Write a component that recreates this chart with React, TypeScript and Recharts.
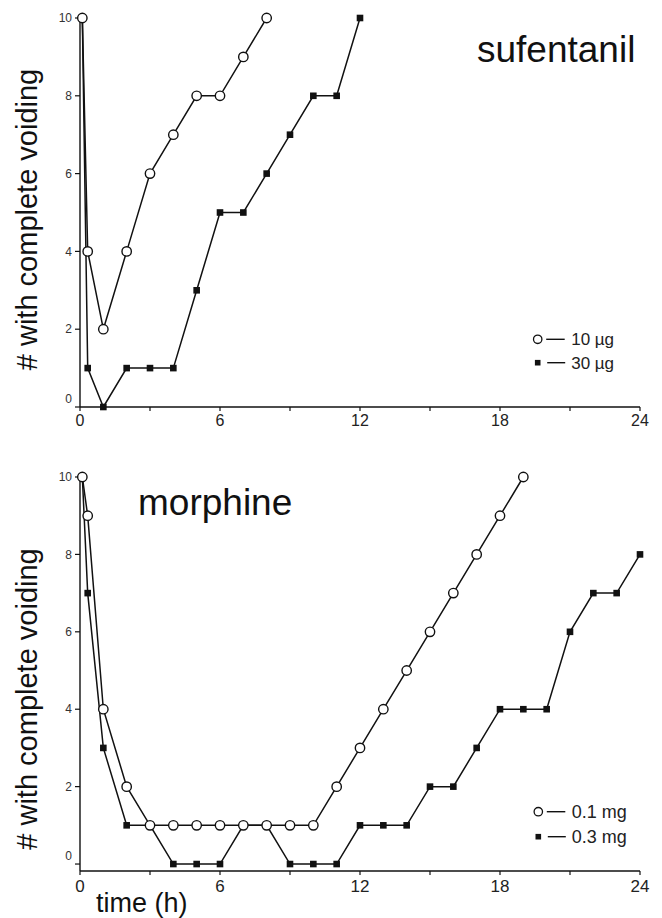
import { LineChart, Line, XAxis, YAxis } from 'recharts';

// time points (h)
const sufTimes = [0.1, 0.33, 1, 2, 3, 4, 5, 6, 7, 8, 9, 10, 11, 12];
const suf10ug = [10, 4, 2, 4, 6, 7, 8, 8, 9, 10];
const suf30ug = [10, 1, 0, 1, 1, 1, 3, 5, 5, 6, 7, 8, 8, 10];

const morTimes = [
  0.1, 0.33, 1, 2, 3, 4, 5, 6, 7, 8, 9, 10, 11, 12, 13, 14, 15, 16, 17, 18, 19,
  20, 21, 22, 23, 24,
];
const mor01mg = [10, 9, 4, 2, 1, 1, 1, 1, 1, 1, 1, 1, 2, 3, 4, 5, 6, 7, 8, 9, 10];
const mor03mg = [
  10, 7, 3, 1, 1, 0, 0, 0, 1, 1, 0, 0, 0, 1, 1, 1, 2, 2, 3, 4, 4, 4, 6, 7, 7, 8,
];

const xTicks = [0, 3, 6, 9, 12, 15, 18, 21, 24];
const yTicks = [0, 2, 4, 6, 8, 10];

const FONT = '"Liberation Sans", Arial, sans-serif';
const INK = '#111';

function toSeries(times: number[], values: number[]) {
  return values.map((v, i) => ({ t: times[i], n: v }));
}

function OpenDot(props: any) {
  const { cx, cy, index } = props;
  return (
    <circle key={`o${index}`} cx={cx} cy={cy} r={4.7} fill="#fff" stroke={INK} strokeWidth={1.4} />
  );
}

function SquareDot(props: any) {
  const { cx, cy, index } = props;
  return <rect key={`s${index}`} x={cx - 3.3} y={cy - 3.3} width={6.6} height={6.6} fill={INK} />;
}

function YTick(props: any) {
  const { x, y, payload } = props;
  return (
    <text
      x={x}
      y={payload.value === 0 ? y - 8 : y}
      dy="0.355em"
      textAnchor="end"
      fontSize={12}
      fontFamily={FONT}
      fill="#333"
    >
      {payload.value}
    </text>
  );
}

function Panel({
  top,
  height,
  margin,
  yDomain,
  tickFont,
  tickMargin,
  filled,
  open,
}: {
  top: number;
  height: number;
  margin: { top: number; right: number; left: number; bottom: number };
  yDomain: [number, number];
  tickFont: number;
  tickMargin: number;
  filled: { t: number; n: number }[];
  open: { t: number; n: number }[];
}) {
  return (
    <div style={{ position: 'absolute', left: 0, top }}>
      <LineChart width={662} height={height} margin={margin}>
        <XAxis
          type="number"
          dataKey="t"
          domain={[0, 24]}
          ticks={xTicks}
          tickFormatter={(v) => (v % 6 === 0 ? String(v) : '')}
          tickSize={4}
          tickMargin={tickMargin}
          height={30}
          axisLine={{ stroke: INK, strokeWidth: 1.4 }}
          tickLine={{ stroke: INK, strokeWidth: 1.2 }}
          tick={{ fontSize: tickFont, fontFamily: FONT, fill: '#222' }}
        />
        <YAxis
          type="number"
          dataKey="n"
          domain={yDomain}
          ticks={yTicks}
          width={40}
          tickSize={5}
          tickMargin={3}
          axisLine={{ stroke: INK, strokeWidth: 1.4 }}
          tickLine={{ stroke: INK, strokeWidth: 1.2 }}
          tick={<YTick />}
        />
        <Line
          data={filled}
          dataKey="n"
          type="linear"
          stroke={INK}
          strokeWidth={1.5}
          dot={<SquareDot />}
          activeDot={false}
          isAnimationActive={false}
        />
        <Line
          data={open}
          dataKey="n"
          type="linear"
          stroke={INK}
          strokeWidth={1.5}
          dot={<OpenDot />}
          activeDot={false}
          isAnimationActive={false}
        />
      </LineChart>
    </div>
  );
}

function LegendRows({
  x,
  y1,
  y2,
  fontSize,
  labels,
}: {
  x: number;
  y1: number;
  y2: number;
  fontSize: number;
  labels: [string, string];
}) {
  const half = fontSize * 0.36;
  return (
    <g>
      <circle cx={x} cy={y1} r={4.2} fill="#fff" stroke={INK} strokeWidth={1.3} />
      <line x1={x + 8.5} x2={x + 27} y1={y1} y2={y1} stroke={INK} strokeWidth={1.4} />
      <text x={x + 33.5} y={y1 + half} fontSize={fontSize} fontFamily={FONT} fill="#222">
        {labels[0]}
      </text>
      <rect x={x - 2.8} y={y2 - 2.8} width={5.6} height={5.6} fill={INK} />
      <line x1={x + 9.5} x2={x + 27.5} y1={y2} y2={y2} stroke={INK} strokeWidth={1.4} />
      <text x={x + 33.5} y={y2 + half} fontSize={fontSize} fontFamily={FONT} fill="#222">
        {labels[1]}
      </text>
    </g>
  );
}

export default function App() {
  const yTitle = '# with complete voiding';
  return (
    <div style={{ position: 'absolute', left: 0, top: 0, width: 662, height: 918, background: '#fff' }}>
      <Panel
        top={0}
        height={440}
        margin={{ top: 18, right: 22, left: 40, bottom: 3 }}
        yDomain={[0, 10]}
        tickFont={16}
        tickMargin={4}
        filled={toSeries(sufTimes, suf30ug)}
        open={toSeries(sufTimes, suf10ug)}
      />
      <Panel
        top={450}
        height={468}
        margin={{ top: 27, right: 22, left: 40, bottom: 17 }}
        yDomain={[-0.18, 10]}
        tickFont={17}
        tickMargin={5}
        filled={toSeries(morTimes, mor03mg)}
        open={toSeries(morTimes, mor01mg)}
      />
      <svg
        width={662}
        height={918}
        style={{ position: 'absolute', left: 0, top: 0, pointerEvents: 'none' }}
      >
        <text x={477} y={62} fontSize={37} fontFamily={FONT} fill={INK}>
          sufentanil
        </text>
        <text x={138} y={515} fontSize={37} fontFamily={FONT} fill={INK}>
          morphine
        </text>
        <text
          x={37}
          y={219.5}
          transform="rotate(-90 37 219.5)"
          textAnchor="middle"
          fontSize={29}
          fontFamily={FONT}
          fill={INK}
        >
          {yTitle}
        </text>
        <text
          x={37}
          y={699}
          transform="rotate(-90 37 699)"
          textAnchor="middle"
          fontSize={29}
          fontFamily={FONT}
          fill={INK}
        >
          {yTitle}
        </text>
        <text x={96} y={912} fontSize={27} fontFamily={FONT} fill={INK}>
          time (h)
        </text>
        <LegendRows x={537.7} y1={339.3} y2={362.7} fontSize={17} labels={['10 µg', '30 µg']} />
        <LegendRows x={538.3} y1={811.7} y2={836.7} fontSize={18} labels={['0.1 mg', '0.3 mg']} />
      </svg>
    </div>
  );
}
